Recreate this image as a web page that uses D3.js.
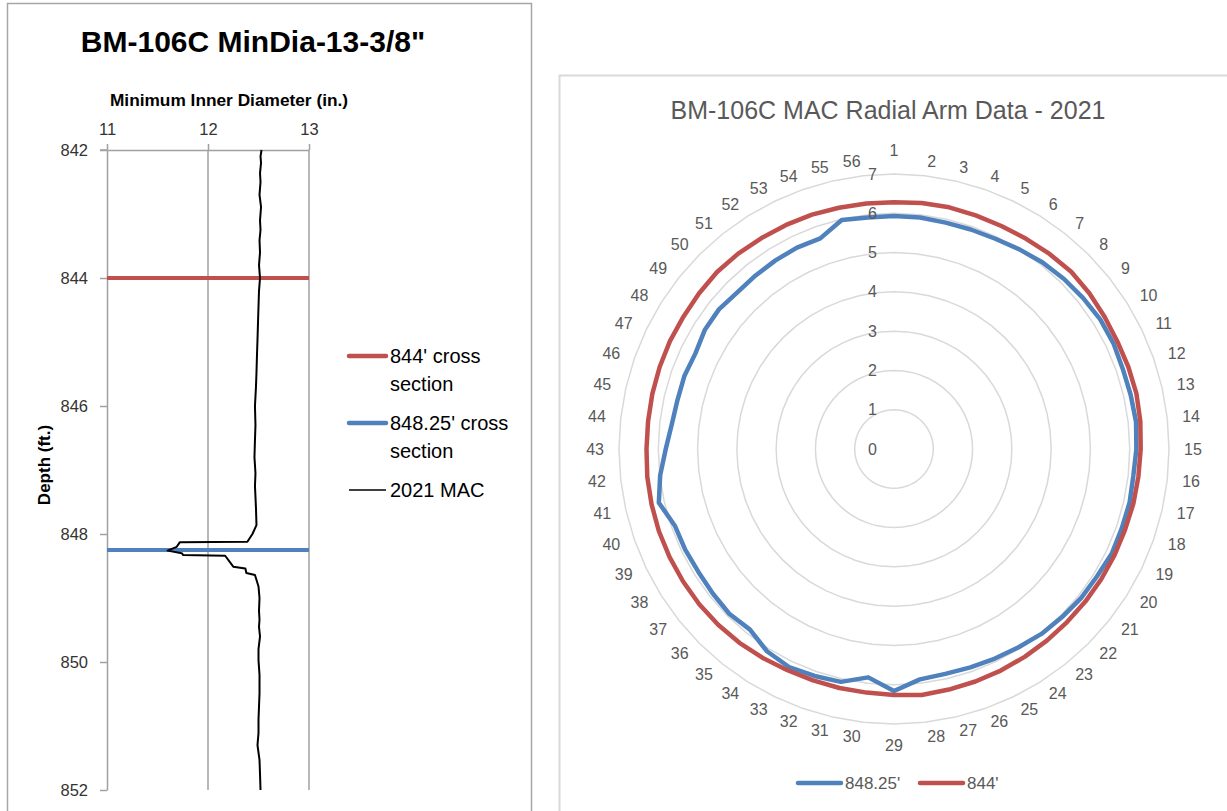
<!DOCTYPE html>
<html><head><meta charset="utf-8">
<script src="https://cdn.jsdelivr.net/npm/d3@7"></script>
<style>
body{margin:0;background:#fff;}
svg{display:block;font-family:"Liberation Sans",Arial,sans-serif;}
</style>
</head><body>
<svg id="c" width="1227" height="811"></svg>
<script>
// ---------- Left chart data ----------
const macDepth = [842.0, 842.1, 842.2, 842.36, 842.5, 842.7, 842.89, 843.1, 843.25, 843.41, 843.6, 843.8, 844.0, 844.2, 844.45, 844.7, 844.97, 845.2, 845.48, 845.7, 846.0, 846.3, 846.53, 846.8, 847.05, 847.25, 847.42, 847.6, 847.86, 848.0, 848.12, 848.13, 848.2, 848.26, 848.3, 848.33, 848.34, 848.51, 848.54, 848.61, 848.64, 848.82, 849.0, 849.2, 849.34, 849.45, 849.6, 849.8, 849.97, 850.2, 850.49, 850.7, 850.9, 851.11, 851.3, 851.53, 851.75, 852.0];
const macDia = [12.53, 12.52, 12.525, 12.515, 12.52, 12.51, 12.525, 12.515, 12.52, 12.51, 12.515, 12.505, 12.515, 12.505, 12.50, 12.495, 12.49, 12.485, 12.48, 12.475, 12.465, 12.47, 12.465, 12.46, 12.47, 12.465, 12.47, 12.475, 12.48, 12.44, 12.39, 11.72, 11.69, 11.60, 11.74, 11.755, 12.17, 12.25, 12.37, 12.38, 12.465, 12.50, 12.51, 12.505, 12.51, 12.505, 12.515, 12.50, 12.50, 12.51, 12.51, 12.505, 12.50, 12.50, 12.49, 12.51, 12.515, 12.52];
const crossDepths = [844, 848.25];
const crossColors = ["#C0504D", "#4F81BD"];
const legendLeft = [["844' cross", "section"], ["848.25' cross", "section"], ["2021 MAC"]];
const diaTicks = [11, 12, 13];
const depthTicks = [842, 844, 846, 848, 850, 852];

// ---------- Right chart data ----------
const armLabels = ["1","2","3","4","5","6","7","8","9","10","11","12","13","14","15","16","17","18","19","20","21","22","23","24","25","26","27","28","29","30","31","32","33","34","35","36","37","38","39","40","41","42","43","44","45","46","47","48","49","50","51","52","53","54","55","56"];
const r848 = [5.93, 5.93, 5.91, 5.92, 5.94, 6.00, 6.07, 6.12, 6.16, 6.20, 6.20, 6.17, 6.18, 6.20, 6.17, 6.13, 6.15, 6.14, 6.15, 6.10, 6.09, 6.05, 6.02, 5.96, 5.92, 5.89, 5.87, 5.90, 6.16, 5.85, 6.08, 6.12, 6.16, 6.08, 5.88, 5.93, 5.90, 5.88, 5.90, 5.91, 6.14, 5.99, 5.81, 5.69, 5.65, 5.65, 5.61, 5.69, 5.70, 5.64, 5.65, 5.67, 5.69, 5.68, 5.98, 5.93];
const r844 = [6.28, 6.30, 6.31, 6.30, 6.30, 6.32, 6.35, 6.38, 6.36, 6.33, 6.31, 6.32, 6.33, 6.31, 6.28, 6.26, 6.25, 6.23, 6.23, 6.23, 6.23, 6.23, 6.24, 6.25, 6.26, 6.27, 6.28, 6.30, 6.26, 6.24, 6.24, 6.24, 6.25, 6.28, 6.31, 6.33, 6.34, 6.34, 6.34, 6.34, 6.33, 6.32, 6.30, 6.30, 6.31, 6.32, 6.33, 6.33, 6.35, 6.37, 6.36, 6.34, 6.33, 6.32, 6.30, 6.29];
const seriesNames = ["848.25'", "844'"];
const ringTicks = [0, 1, 2, 3, 4, 5, 6, 7];

const svg = d3.select("#c");

// ---------- panels ----------
svg.append("rect").attr("x", 7.5).attr("y", 3.5).attr("width", 524).attr("height", 830)
  .attr("fill", "#fff").attr("stroke", "#a6a6a6").attr("stroke-width", 1.5);
svg.append("rect").attr("x", 559.5).attr("y", 75.5).attr("width", 700).attr("height", 800)
  .attr("fill", "#fff").attr("stroke", "#d9d9d9").attr("stroke-width", 2);

// ---------- Left chart ----------
const x = d3.scaleLinear().domain([11, 13]).range([107, 309]);
const y = d3.scaleLinear().domain([842, 852]).range([150, 790]);
const L = svg.append("g");

L.append("text").attr("x", 253).attr("y", 52).attr("text-anchor", "middle")
  .attr("font-weight", "bold").attr("font-size", 30).attr("fill", "#000")
  .text("BM-106C MinDia-13-3/8\"");
L.append("text").attr("x", 229).attr("y", 106).attr("text-anchor", "middle")
  .attr("font-weight", "bold").attr("font-size", 17.3).attr("fill", "#000")
  .text("Minimum Inner Diameter (in.)");
L.append("text").attr("transform", "translate(50,465) rotate(-90)").attr("text-anchor", "middle")
  .attr("font-weight", "bold").attr("font-size", 17).attr("fill", "#000")
  .text("Depth (ft.)");

// vertical gridlines
L.append("g").selectAll("line").data(diaTicks.slice(1)).join("line")
  .attr("x1", d => x(d)).attr("x2", d => x(d)).attr("y1", y(842)).attr("y2", y(852))
  .attr("stroke", "#a0a0a0").attr("stroke-width", 1.5);

const topAxis = L.append("g").attr("transform", `translate(0,${y(842)})`)
  .call(d3.axisTop(x).tickValues(diaTicks).tickSize(6).tickSizeOuter(0).tickPadding(9).tickFormat(d3.format("d")));
const leftAxis = L.append("g").attr("transform", `translate(${x(11)},0)`)
  .call(d3.axisLeft(y).tickValues(depthTicks).tickSize(7).tickSizeOuter(0).tickPadding(12).tickFormat(d3.format("d")));
[topAxis, leftAxis].forEach(a => {
  a.select(".domain").attr("stroke", "#a0a0a0").attr("stroke-width", 1.5);
  a.selectAll(".tick line").attr("stroke", "#a0a0a0").attr("stroke-width", 1.5);
  a.selectAll(".tick text").attr("font-size", 16.5).attr("fill", "#333").attr("font-family", "Liberation Sans, Arial, sans-serif");
});
L.append("line").attr("x1", x(11) - 7).attr("x2", x(11)).attr("y1", y(842)).attr("y2", y(842))
  .attr("stroke", "#a0a0a0").attr("stroke-width", 1.5);

// cross-section lines
L.append("g").selectAll("line").data(crossDepths).join("line")
  .attr("x1", x(11)).attr("x2", x(13)).attr("y1", d => y(d)).attr("y2", d => y(d))
  .attr("stroke", (d, i) => crossColors[i]).attr("stroke-width", 4);

// MAC line
const macData = macDepth.map((d, i) => ({ depth: d, dia: macDia[i] }));
L.append("path").datum(macData)
  .attr("d", d3.line().x(d => x(d.dia)).y(d => y(d.depth)))
  .attr("fill", "none").attr("stroke", "#000").attr("stroke-width", 2).attr("stroke-linejoin", "round");

// left legend
const legY = [356, 423, 490];
const legCol = [crossColors[0], crossColors[1], "#000"];
const legW = [4.5, 4.5, 1.5];
legendLeft.forEach((lines, i) => {
  L.append("line").attr("x1", 349).attr("x2", 386).attr("y1", legY[i]).attr("y2", legY[i])
    .attr("stroke", legCol[i]).attr("stroke-width", legW[i]).attr("stroke-linecap", i < 2 ? "round" : "butt");
  const t = L.append("text").attr("x", 390).attr("y", legY[i] + 7).attr("font-size", 20).attr("fill", "#000");
  lines.forEach((s, j) => t.append("tspan").attr("x", 390).attr("dy", j === 0 ? 0 : 28).text(s));
});

// ---------- Right chart ----------
const cx = 894, cy = 449;
const rr = d3.scaleLinear().domain([0, 7]).range([0, 275]);
const n = armLabels.length;
const ang = i => i * 2 * Math.PI / n;
const R = svg.append("g").attr("transform", `translate(${cx},${cy})`);

svg.append("text").attr("x", 888).attr("y", 119).attr("text-anchor", "middle")
  .attr("font-size", 25).attr("fill", "#595959").text("BM-106C MAC Radial Arm Data - 2021");

const radial = d3.lineRadial().angle((d, i) => ang(i)).radius(d => rr(d)).curve(d3.curveLinearClosed);

// rings
R.append("g").selectAll("path").data(ringTicks.slice(1)).join("path")
  .attr("d", v => radial(armLabels.map(() => v)))
  .attr("fill", "none").attr("stroke", "#d9d9d9").attr("stroke-width", 1.5);

// series
const seriesData = [r848, r844];
const seriesColors = ["#4F81BD", "#C0504D"];
R.append("g").selectAll("path").data(seriesData).join("path")
  .attr("d", d => radial(d))
  .attr("fill", "none").attr("stroke", (d, i) => seriesColors[i]).attr("stroke-width", 4.5)
  .attr("stroke-linejoin", "round");

// value labels
R.append("g").selectAll("text").data(ringTicks).join("text")
  .attr("x", -17).attr("y", v => -rr(v)).attr("text-anchor", "end").attr("dominant-baseline", "central")
  .attr("font-size", 16).attr("fill", "#595959").text(v => v);

// category labels (anchored on their inner side, like Excel)
const R0 = rr(7) + 14;
R.append("g").selectAll("text").data(armLabels).join("text")
  .each(function (d, i) {
    const a = ang(i), s = Math.sin(a), c = Math.cos(a);
    const t = d3.select(this);
    let px = R0 * s, py = -R0 * c;
    let anchor = "middle";
    if (Math.abs(s) < 1e-6) {
      py += c > 0 ? -10 : 7;
    } else {
      anchor = s > 0 ? "start" : "end";
      px += s > 0 ? 1 : -1;
    }
    t.attr("x", px).attr("y", py).attr("text-anchor", anchor);
  })
  .attr("dominant-baseline", "central")
  .attr("font-size", 16).attr("fill", "#595959").text(d => d);

// bottom legend
const legX = [798, 920];
seriesNames.forEach((s, i) => {
  svg.append("line").attr("x1", legX[i]).attr("x2", legX[i] + 43).attr("y1", 783).attr("y2", 783)
    .attr("stroke", seriesColors[i]).attr("stroke-width", 4.5).attr("stroke-linecap", "round");
  svg.append("text").attr("x", legX[i] + 47).attr("y", 783).attr("dominant-baseline", "central")
    .attr("font-size", 17).attr("fill", "#595959").text(s);
});
</script>
</body></html>
